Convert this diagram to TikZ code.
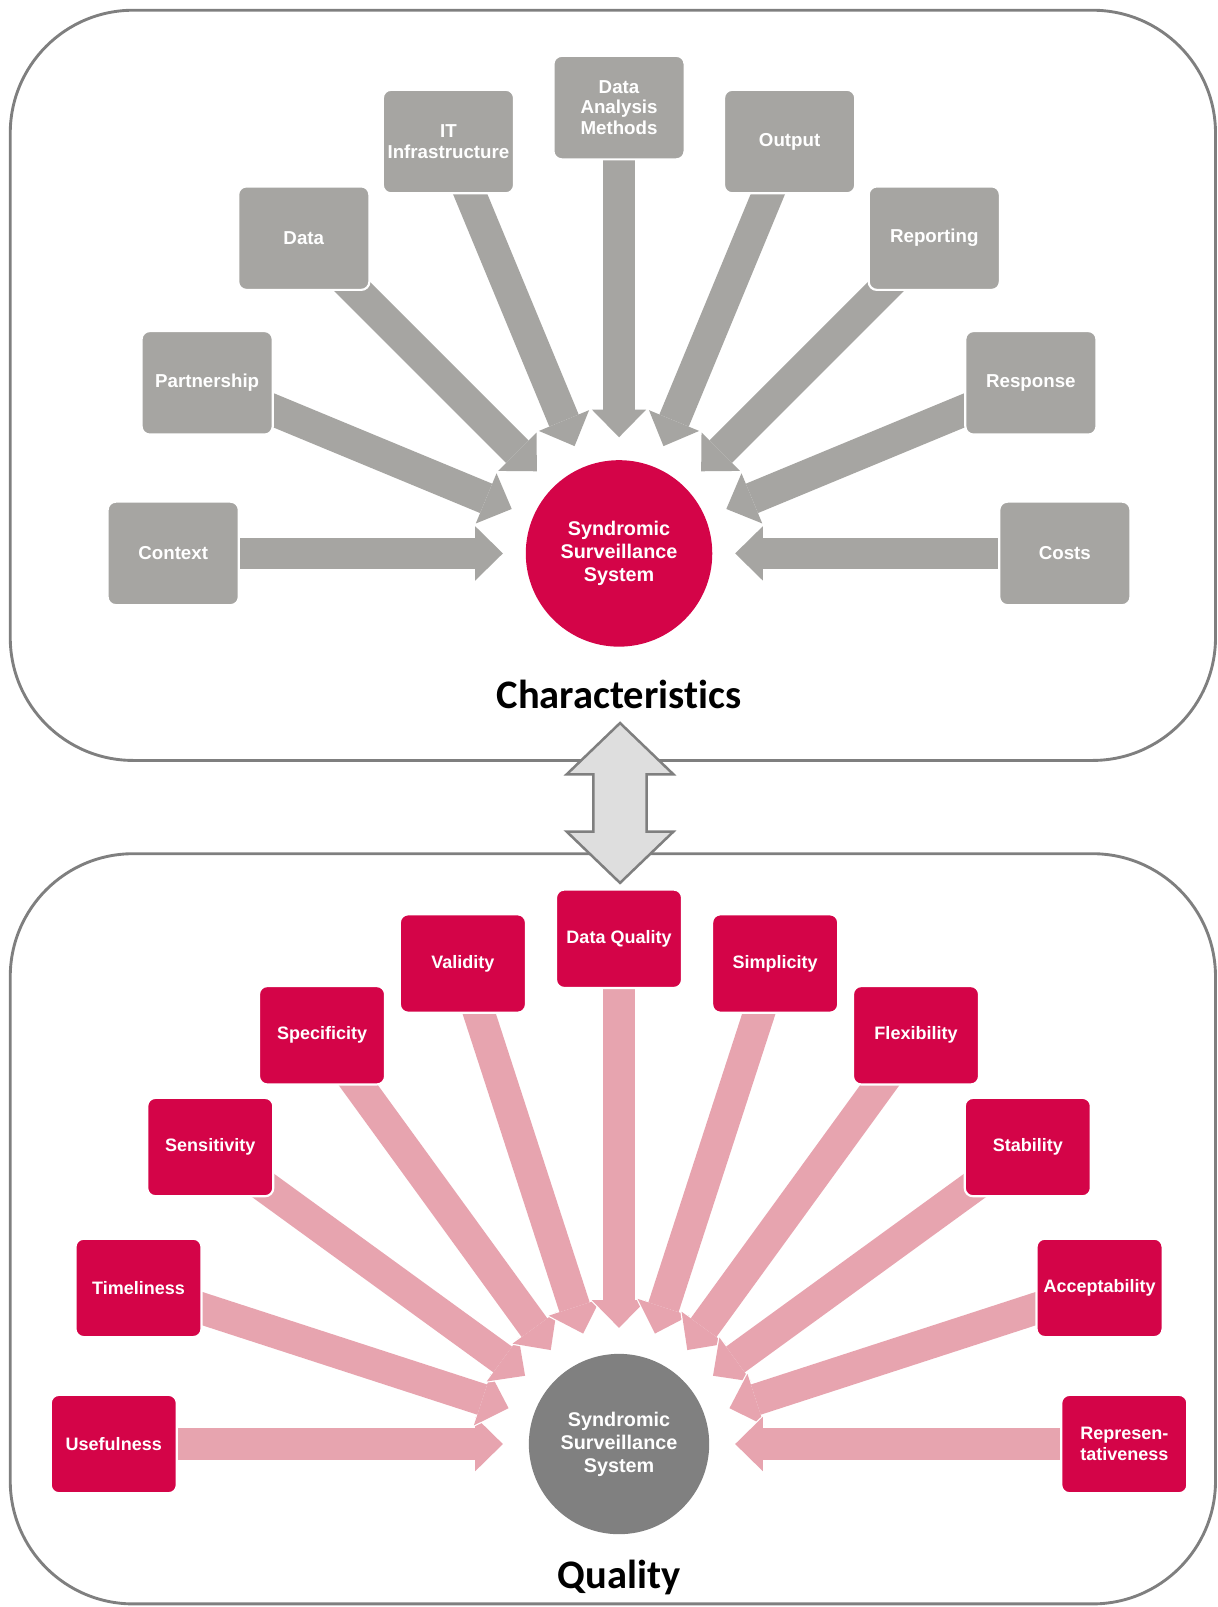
\documentclass[tikz,border=0pt]{standalone}
\usepackage{fontspec}
\setmainfont{Liberation Sans}
\newfontfamily\headfont[Ligatures=NoCommon]{Carlito}
\usepackage{xcolor}
\usetikzlibrary{arrows.meta,positioning,backgrounds}
\definecolor{ssred}{RGB}{212,4,72}
\definecolor{boxgray}{RGB}{166,165,162}
\definecolor{feedpink}{RGB}{231,164,175}
\definecolor{hubgray}{RGB}{128,128,128}
\definecolor{framegray}{RGB}{127,127,127}
\definecolor{linkgray}{RGB}{222,222,222}

\begin{document}
\begin{tikzpicture}[x=0.02cm, y=0.02cm,
    panel/.style = {draw=framegray, line width=1.6pt, rounded corners=2.4cm},
    charbox/.style = {fill=boxgray, draw=white, line width=1.2pt, rounded corners=0.16cm,
        minimum width=2.56cm, minimum height=2.02cm, align=center, text=white, inner sep=1pt,
        font=\fontsize{10.4}{11.6}\selectfont\bfseries},
    qualbox/.style = {charbox, fill=ssred, minimum width=2.46cm, minimum height=1.92cm,
        font=\fontsize{10}{11.9}\selectfont\bfseries},
    hub/.style = {circle, align=center, text=white, inner sep=0pt,
        font=\fontsize{11}{12.8}\selectfont\bfseries},
    title/.style = {anchor=base, font=\headfont\fontsize{22.5}{26}\selectfont\bfseries},
    feed/.style = {line width=0.62cm, shorten >=#1,
        -{Triangle[length=0.54cm, width=1.06cm, line width=0pt]},
        preaction={draw=white, line width=0.70cm, shorten >=#1-0.05cm,
            -{Triangle[length=0.61cm, width=1.16cm, line width=0pt]}}},
    linkarrow/.style = {fill=linkgray, draw=framegray, line width=1.4pt, line join=miter}
    ]
\useasboundingbox (0,0) rectangle (1188,1568);
\draw[panel] (10,826) rectangle (1186,1558);
\draw[panel] (10,3) rectangle (1186,735);

\node[hub, fill=ssred, minimum size=3.64cm] (charhub) at (604,1028) {Syndromic\\Surveillance\\System};
\node[hub, fill=hubgray, minimum size=3.52cm] (qualhub) at (604,159) {Syndromic\\Surveillance\\System};

\foreach \nm/\txt [count=\i from 0] in {context/Context, partner/Partnership, data/Data,
    itinfra/IT\\Infrastructure, methods/Data\\Analysis\\Methods, output/Output,
    reporting/Reporting, response/Response, costs/Costs}
  \node[charbox] (\nm) at ([shift={(180-22.5*\i:435)}]charhub) {\txt};

\foreach \nm/\txt [count=\i from 0] in {useful/Usefulness, timely/Timeliness,
    sensitive/Sensitivity, specific/Specificity, valid/Validity, dquality/Data Quality,
    simple/Simplicity, flexible/Flexibility, stable/Stability, accept/Acceptability,
    represent/Represen-\\tativeness}
  \node[qualbox] (\nm) at ([shift={(180-18*\i:493)}]qualhub) {\txt};

\begin{scope}[on background layer]
\foreach \nm in {context,partner,data,itinfra,methods,output,reporting,response,costs}
  \draw[feed=0.44cm, draw=boxgray] (\nm.center) -- (charhub);
\foreach \nm in {useful,timely,sensitive,specific,valid,dquality,simple,flexible,stable,accept,represent}
  \draw[feed=0.50cm, draw=feedpink] (\nm.center) -- (qualhub);
\end{scope}

\node[title] (chartitle) at (604,877) {Characteristics};
\node[title] (qualtitle) at (604,18) {Quality};

\coordinate (link) at (605,784.5);
\draw[linkarrow] (link) ++(0,78) -- ++(52,-50) -- ++(-26,0) -- ++(0,-56) -- ++(26,0)
  -- ++(-52,-50) -- ++(-52,50) -- ++(26,0) -- ++(0,56) -- ++(-26,0) -- cycle;
\end{tikzpicture}
\end{document}
